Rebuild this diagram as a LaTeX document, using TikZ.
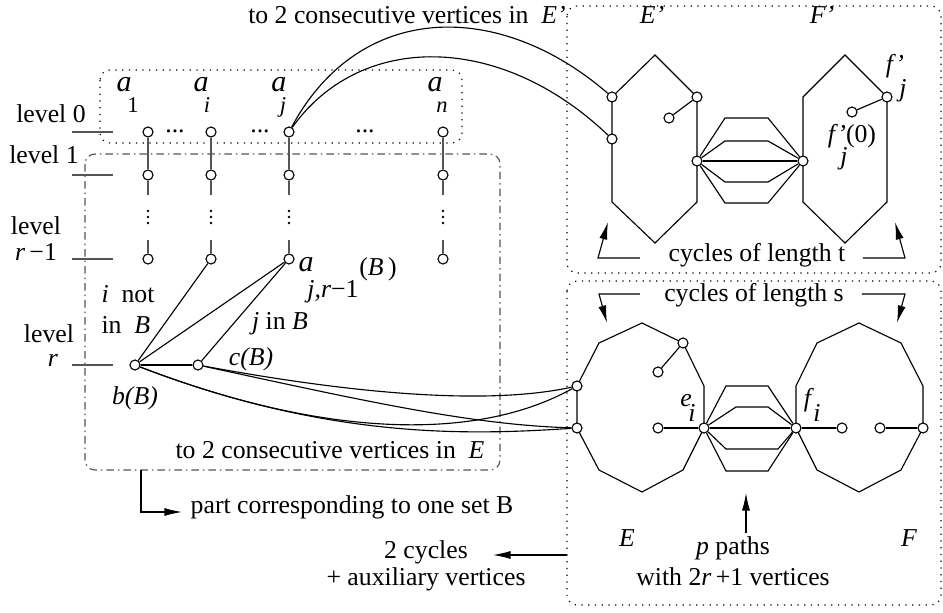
\documentclass[tikz,border=0pt]{standalone}
\usepackage{fontspec}
\usepackage{xcolor}
\usepackage{tikz}
\usetikzlibrary{arrows.meta}
\setmainfont{Liberation Serif}
\definecolor{lvlgray}{RGB}{85,85,85}
\tikzset{
  vtx/.style={circle, draw, fill=white, inner sep=0pt, minimum size=4pt},
  dotbox/.style={dash pattern=on 0.5pt off 2.2pt, rounded corners=4pt},
  dashdotbox/.style={lvlgray, dash pattern=on 3pt off 1.6pt on 0.6pt off 1.6pt, rounded corners=4pt},
  levtick/.style={lvlgray, line width=0.5pt},
  lbl/.style={inner sep=0pt},
  sub/.style={inner sep=0pt, font=\small},
  avar/.style={inner sep=0pt, font=\fontsize{12}{14}\selectfont},
  arr/.style={-{Latex[length=7pt,width=3.2pt]}},
}

\begin{document}
\begin{tikzpicture}[x=0.4pt, y=-0.4pt, line width=0.45pt, font=\fontsize{10.3}{12.4}\selectfont]
    \useasboundingbox (0,0) rectangle (943,613);

    \draw[dotbox] (100,70) rectangle (462,143);
    \draw[dashdotbox] (85,154) rectangle (500,470);
    \draw[dotbox] (567,6) rectangle (941,273);
    \draw[dotbox] (567,281) rectangle (941,605);

    \foreach \y in {132,175,259,365} \draw[levtick] (72,\y) -- (113,\y);
    \node[lbl] (lev0) at (51,114) {level 0};
    \node[lbl] (lev1) at (44,155) {level 1};
    \node[lbl, align=center] (levrm) at (36,239) {level\\[-2pt]\textit{r}\,−1};
    \node[lbl, anchor=base] (levr) at (49,343) {level};
    \node[lbl, anchor=base] (levrr) at (53,367) {\textit{r}};

    \foreach \k/\x/\lx/\sx/\s in {1/148/124/133/1, i/211/201/207/\textit{i}, j/289/279/283/\textit{j}, n/443/435/442/\textit{n}} {
        \node[vtx] (t\k) at (\x,132) {};
        \node[vtx] (u\k) at (\x,175) {};
        \node[vtx] (w\k) at (\x,259) {};
        \draw[lvlgray] (t\k) -- (u\k);
        \draw[lvlgray] (u\k) -- ++(0,20);
        \draw[lvlgray] (w\k) -- ++(0,-19);
        \foreach \dy in {211,217,223} \fill (\x,\dy) circle (0.55pt);
        \node[avar, anchor=base] (la\k) at (\lx,91) {\textit{a}};
        \node[sub, anchor=base] (las\k) at (\sx,113) {\s};
    }
    \node[lbl] (dots1) at (175,131) {...};
    \node[lbl] (dots2) at (260,131) {...};
    \node[lbl] (dots3) at (365,131) {...};

    \node[vtx] (b) at (135,365) {};
    \node[vtx] (c) at (198,365) {};
    \draw (b) -- (c);
    \draw (b) -- (wi);
    \draw (b) -- (wj);
    \draw (c) -- (wj);
    \node[lbl, align=left] (notB) at (128,310) {\textit{i}~~not\\in~~\textit{B}};
    \node[lbl] (inB) at (280,324) {\textit{j} in \textit{B}};
    \node[lbl] (lc) at (251,359) {\textit{c(B)}};
    \node[lbl] (lb) at (135,398) {\textit{b(B)}};
    \node[avar, anchor=base] (lajr) at (306,272) {\textit{a}};
    \node[lbl, anchor=base] (lajrs) at (333,298) {\textit{j,r}−1};
    \node[lbl, anchor=base] (lajrb) at (378,276) {(\textit{B}\,)};

    \node[lbl] (topE) at (407,15) {to 2 consecutive vertices in~~\textit{E’}};
    \node[lbl] (botE) at (330,450) {to 2 consecutive vertices in~~\textit{E}};
    \node[lbl] (part) at (352,507) {part corresponding to one set B};
    \node[lbl, align=center] (aux) at (426,566) {2 cycles\\[-1.5pt]+ auxiliary vertices};

    \draw (655,55) -- (697,97) -- (697,202) -- (655,243) -- (612,202) -- (612,97) -- cycle;
    \draw (845,55) -- (887,97) -- (887,202) -- (845,243) -- (803,202) -- (803,97) -- cycle;
    \node[vtx] (ep1) at (612,97) {};
    \node[vtx] (ep2) at (612,139) {};
    \node[vtx] (ep3) at (697,97) {};
    \node[vtx] (ep4) at (669,118) {};
    \node[vtx] (epm) at (697,161) {};
    \node[vtx] (fpm) at (803,161) {};
    \node[vtx] (fpj) at (887,97) {};
    \node[vtx] (fpj0) at (852,112) {};
    \draw (ep3) -- (ep4);
    \draw (fpj) -- (fpj0);
    \draw (epm) -- (fpm);
    \draw (epm) -- (725,118) -- (768,118) -- (fpm);
    \draw (epm) -- (725,141) -- (768,141) -- (fpm);
    \draw (epm) -- (725,182) -- (768,182) -- (fpm);
    \draw (epm) -- (725,203) -- (768,203) -- (fpm);
    \node[lbl] (lEp) at (652,15) {\textit{E’}};
    \node[lbl] (lFp) at (822,15) {\textit{F’}};
    \node[lbl] (lfpj) at (895,66) {\textit{f’}};
    \node[lbl] (lfpjs) at (903,91) {\textit{j}};
    \node[lbl, anchor=base] (lfpj0) at (852,142) {\textit{f’}(0)};
    \node[lbl, anchor=base] (lfpj0s) at (844,165) {\textit{j}};
    \node[lbl] (cyct) at (757,255) {cycles of length t};
    \coordinate (tlt) at (608,222);
    \coordinate (trt) at (895,222);
    \draw[arr] (640,258) -- (598,258) -- (tlt);
    \draw[arr] (863,258) -- (905,258) -- (trt);

    \draw (642,323) -- (683,343) -- (704,386) -- (704,428) -- (683,470) -- (642,492) -- (599,470) -- (577,428) -- (577,386) -- (599,343) -- cycle;
    \draw (859,323) -- (901,343) -- (923,386) -- (923,428) -- (901,470) -- (859,492) -- (817,470) -- (796,428) -- (796,386) -- (817,343) -- cycle;
    \node[vtx] (e1) at (577,386) {};
    \node[vtx] (e2) at (577,428) {};
    \node[vtx] (e3) at (683,343) {};
    \node[vtx] (e4) at (658,372) {};
    \node[vtx] (ei) at (704,428) {};
    \node[vtx] (e5) at (658,428) {};
    \node[vtx] (fi) at (796,428) {};
    \node[vtx] (f5) at (842,428) {};
    \node[vtx] (f6) at (880,428) {};
    \node[vtx] (f2) at (923,428) {};
    \draw (e3) -- (e4);
    \draw (e5) -- (ei) -- (fi) -- (f5);
    \draw (f6) -- (f2);
    \draw (ei) -- (726,386) -- (768,386) -- (fi);
    \draw (ei) -- (736,407) -- (768,407) -- (fi);
    \draw (ei) -- (726,449) -- (778,449) -- (fi);
    \draw (ei) -- (726,471) -- (768,471) -- (fi);
    \node[lbl, anchor=base] (lei) at (686,406) {\textit{e}};
    \node[lbl, anchor=base] (leis) at (692,422) {\textit{i}};
    \node[lbl, anchor=base] (lfi) at (809,406) {\textit{f}};
    \node[lbl, anchor=base] (lfis) at (817,422) {\textit{i}};
    \node[lbl] (lE) at (627,538) {\textit{E}};
    \node[lbl] (lF) at (909,538) {\textit{F}};
    \node[lbl, align=center] (paths) at (733,561) {\textit{p} paths\\with 2\textit{r}\,+1 vertices};
    \node[lbl] (cycs) at (754,295) {cycles of length s};
    \coordinate (tls) at (607,323);
    \coordinate (trs) at (897,323);
    \coordinate (ptip) at (746,493);
    \draw[arr] (640,294) -- (599,294) -- (tls);
    \draw[arr] (862,294) -- (905,294) -- (trs);
    \draw[arr] (746,533) -- (ptip);

    \draw (tj) .. controls (360,0) and (500,0) .. (ep1);
    \draw (tj) .. controls (360,32) and (500,32) .. (ep2);
    \draw (c) .. controls (360,395) and (490,405) .. (e1);
    \draw (c) .. controls (360,400) and (470,425) .. (e2);
    \draw (b) .. controls (330,440) and (480,440) .. (e1);
    \draw (b) .. controls (330,440) and (470,435) .. (e2);

    \coordinate (auxtip) at (493,555);
    \coordinate (parttip) at (182,512);
    \draw[arr] (567,555) -- (auxtip);
    \draw[arr] (141,470) |- (parttip);
\end{tikzpicture}
\end{document}
